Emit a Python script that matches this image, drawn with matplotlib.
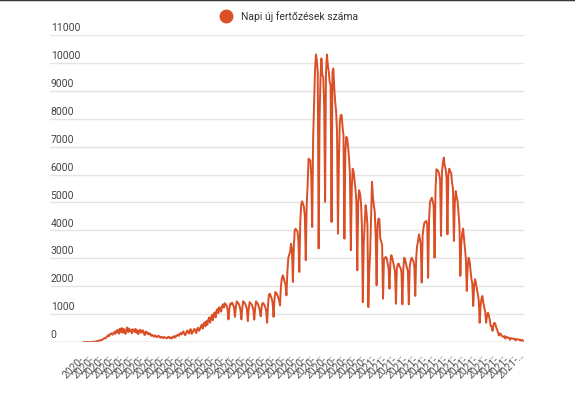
import matplotlib.pyplot as plt
import numpy as np
import pandas as pd
from matplotlib.lines import Line2D

plt.rcParams["font.family"] = ["Roboto", "DejaVu Sans"]

# daily new infections, one value per day from start_date
start_date = "2020-02-26"
cases = [
    1, 0, 0, 1, 0, 2, 1, 3, 2, 6, 4, 15, 11, 19, 25,
    45, 35, 60, 55, 75, 85, 110, 140, 125, 160, 190, 245, 205, 270, 300, 310,
    260, 320, 360, 290, 410, 340, 440, 300, 480, 360,
    500, 330, 470, 420, 290, 450, 520, 350, 480, 390,
    430, 310, 460, 400, 360, 470, 330, 420, 280, 400,
    440, 330, 390, 420, 300, 250, 380, 350, 290, 330, 270, 300,
    220, 250, 230, 190, 240, 210, 170, 200, 230, 180,
    150, 190, 170, 140, 180, 160, 150, 130, 170, 190,
    140, 160, 120, 180, 200, 150, 210, 190, 240, 260,
    220, 300, 320, 270, 330, 380, 290, 240, 320, 410,
    360, 300, 440, 460, 290, 350, 420, 470, 380, 320,
    480, 510, 400, 460, 560,
    620, 480, 650, 700, 560, 750, 620, 800, 880, 690,
    850, 970, 780, 1000, 1060, 880, 1120, 1180, 1030, 1250,
    1200, 1090, 1280, 1350, 1230, 1390,
    1350, 1300, 1150, 810, 1200, 1380, 1350, 1410, 1330, 1250,
    900, 1250, 1460, 1400, 1380, 1290, 1150, 810, 1240, 1460,
    1420, 1370, 1300, 1180, 750, 1200, 1430, 1390, 1350, 1280,
    1150, 800, 1210, 1460, 1410, 1360, 1260, 1130, 920, 1250,
    1400, 1380, 1330, 1240, 1100, 690,
    1350, 1700, 1730, 1650, 1550, 1400,
    900, 1550, 1790, 1750, 1700, 1600, 1500,
    1310, 2000, 2270, 2390, 2300, 2150, 2050,
    1670, 2500, 3000, 3130, 3230, 3520, 3300,
    2150, 3400, 4000, 4060, 4000, 3970, 3600,
    2510, 4300, 4900, 5040, 4950, 4840, 4500,
    2930, 4900, 5620, 6570, 6540, 6510, 5900,
    4120, 7290, 8500, 9680, 10300, 10100, 9680,
    3350, 8000, 9440, 10160, 9560, 9500, 8500,
    5020, 9680, 10300, 9920, 9680, 9320, 9200,
    4300, 9680, 9800, 9080, 8600, 8250, 7500,
    3880, 6500, 7890, 8130, 8130, 7700, 7410,
    3700, 6800, 7350, 7300, 7000, 6600, 6000,
    3290, 5500, 6210, 6100, 5800, 5500, 5000,
    2570, 5000, 5440, 5300, 5000, 4200,
    1430, 3500, 4180, 4900, 4660, 4200, 1250,
    2510, 3230, 4500, 5740, 5200, 4900, 4660, 3800, 2030,
    4180, 4420, 4400, 3700, 3600, 3470, 1550,
    2990, 3000, 3050, 2990, 2800, 2630, 1910,
    2870, 3110, 3000, 2870, 2700, 2510, 1370,
    2630, 2780, 2810, 2700, 2660, 2500, 1350,
    2600, 3020, 2950, 2800, 2650, 2540, 1350,
    2700, 2900, 3020, 2950, 2900, 2700, 1650,
    3000, 3440, 3600, 3860, 3700, 3500, 2130,
    3800, 4100, 4280, 4300, 4340, 4200, 2300,
    4400, 5000, 5100, 5170, 5050, 4870, 3020,
    5400, 6190, 6150, 6130, 6000, 5800, 3800,
    6100, 6400, 6610, 6310, 6200, 5900, 3860,
    6000, 6210, 6100, 6070, 5710, 5500, 3620,
    5000, 5410, 5200, 5050, 4600, 4200, 2370,
    3500, 3900, 4060, 3700, 3320, 3000, 1830,
    2700, 3020, 2900, 2600, 2270, 2100, 1290,
    2000, 2250, 2100, 1900, 1700, 1500, 690,
    1300, 1550, 1650, 1400, 1230, 1100, 690,
    950, 1050, 950, 800, 570, 560, 400,
    600, 690, 650, 520, 450, 330, 230, 310, 290, 215,
    200, 180, 215, 120, 190, 170, 155, 150, 80, 140,
    130, 115, 110, 120, 60, 100, 95, 95, 75, 80,
    45, 70, 55, 40,
]
y_ticks = list(range(0, 11001, 1000))
legend_label = "Napi új fertőzések száma"
label_step = 11

dates = pd.date_range(start_date, periods=len(cases))
tick_idx = list(range(0, len(cases), label_step))
tick_labels = [dates[i].strftime("%Y") + "-…" for i in tick_idx]

line_color = "#db4f26"

fig = plt.figure(figsize=(5.75, 4.02), dpi=100)
ax = fig.add_axes([50 / 575, 59 / 402, 474 / 575, 307 / 402])

x = np.arange(len(cases))
ax.plot(x, cases, color=line_color, lw=1.4, solid_joinstyle="round")

ax.set_xlim(-37, len(cases) - 1 + 0.2)
ax.set_ylim(0, 11000)

# gridlines, labels sit above each line on the left
ax.set_yticks(y_ticks)
ax.yaxis.grid(True, color="#e4e4e4", lw=1)
ax.axhline(0, color="#cfcfcf", lw=1)
ax.set_axisbelow(True)
ax.tick_params(axis="y", length=0, labelleft=False)
for v in y_ticks:
    ax.annotate(str(v), xy=(0, v), xycoords=ax.get_yaxis_transform(),
                xytext=(0.5, 2), textcoords="offset points",
                ha="left", va="bottom", fontsize=7.5, color="#444444")

ax.set_xticks(tick_idx)
ax.set_xticklabels(tick_labels, rotation=45, ha="right",
                   rotation_mode="anchor", fontsize=7.5, color="#555555")
ax.tick_params(axis="x", length=0, pad=5)

for s in ax.spines.values():
    s.set_visible(False)

# legend on top
fig.add_artist(Line2D([226 / 575], [1 - 16.5 / 402], marker="o", markersize=9,
                      color=line_color, transform=fig.transFigure))
fig.text(241 / 575, 1 - 16.5 / 402, legend_label, fontsize=7.5,
         color="#333333", va="center", ha="left")

# dark strip along the top edge
fig.add_artist(Line2D([0, 1], [1, 1], color="#3a3a3a", lw=2.5,
                      transform=fig.transFigure))

fig.savefig("out.png", dpi=100, facecolor="white")
